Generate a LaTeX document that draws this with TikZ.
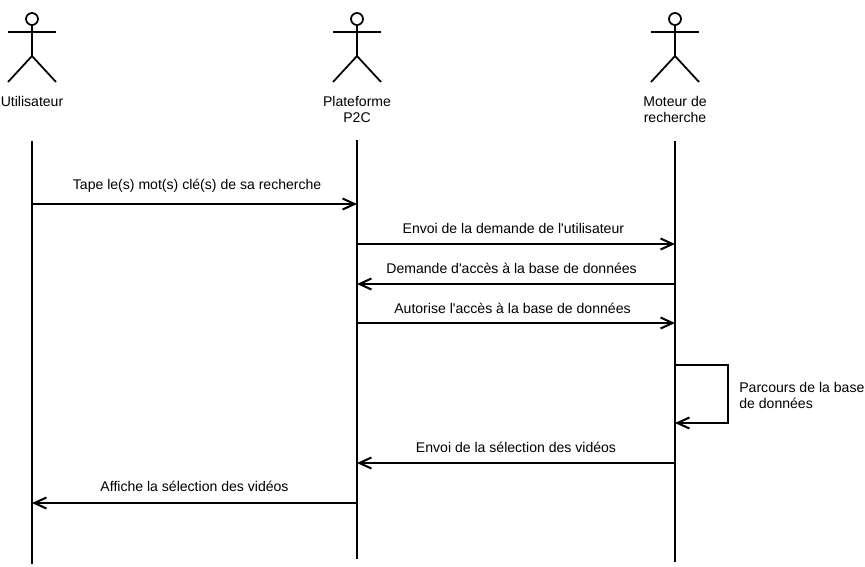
\documentclass[tikz,border=0pt]{standalone}
\usepackage{fontspec}
\setmainfont{Liberation Sans}
\usepackage{xcolor}
\usetikzlibrary{calc,arrows.meta,positioning}
\tikzset{
  ar/.style={-{Straight Barb[length=2.4mm,width=2.2mm]},line width=1.15pt,black},
  life/.style={line width=1.15pt,black},
  stick/.style={line width=1pt,black},
  lbl/.style={font=\fontsize{8}{9.1}\selectfont,align=center,inner sep=0pt},
  msg/.style={font=\fontsize{8}{9.1}\selectfont,inner sep=0pt}
}

\begin{document}
\begin{tikzpicture}[x=0.02cm,y=-0.02cm]
\useasboundingbox (0,0) rectangle (865,566);
% acteurs
\foreach \xa in {32,357,675}{
  \draw[stick] (\xa,19) circle (6);
  \draw[stick] (\xa,25)--(\xa,56);
  \draw[stick] (\xa-24,32)--(\xa+24,32);
  \draw[stick] (\xa-24,82)--(\xa,56)--(\xa+24,82);
}
\node[lbl] (user) at (32,101) {Utilisateur};
\node[lbl] (plat) at (357,109) {Plateforme\\P2C};
\node[lbl] (moteur) at (675,109) {Moteur de\\recherche};
% lignes de vie
\coordinate (userH) at (32,141);
\coordinate (userB) at (32,564);
\coordinate (platH) at (357,140);
\coordinate (platB) at (357,559);
\coordinate (motH) at (675,141);
\coordinate (motB) at (675,562);
\draw[life] (userH)--(userB);
\draw[life] (platH)--(platB);
\draw[life] (motH)--(motB);
% messages
\draw[ar] (32,204)--(357,204) node[msg,midway,yshift=0.37cm,xshift=1.5] (m1) {Tape le(s) mot(s) clé(s) de sa recherche};
\draw[ar] (357,244)--(675,244) node[msg,midway,yshift=0.32cm,xshift=-1.5] (m2) {Envoi de la demande de l\textquotesingle utilisateur};
\draw[ar] (675,284)--(357,284) node[msg,midway,yshift=0.31cm,xshift=-2.5] (m3) {Demande d\textquotesingle accès à la base de données};
\draw[ar] (357,323)--(675,323) node[msg,midway,yshift=0.29cm,xshift=-2] (m4) {Autorise l\textquotesingle accès à la base de données};
\draw[ar] (675,365)--(728,365)--(728,423)--(675,423);
\node[lbl,align=left,anchor=west] (m5) at (739,395) {Parcours de la base\\de données};
\draw[ar] (675,463)--(357,463) node[msg,midway,yshift=0.32cm] (m6) {Envoi de la sélection des vidéos};
\draw[ar] (357,503)--(32,503) node[msg,midway,yshift=0.33cm] (m7) {Affiche la sélection des vidéos};
\end{tikzpicture}
\end{document}
